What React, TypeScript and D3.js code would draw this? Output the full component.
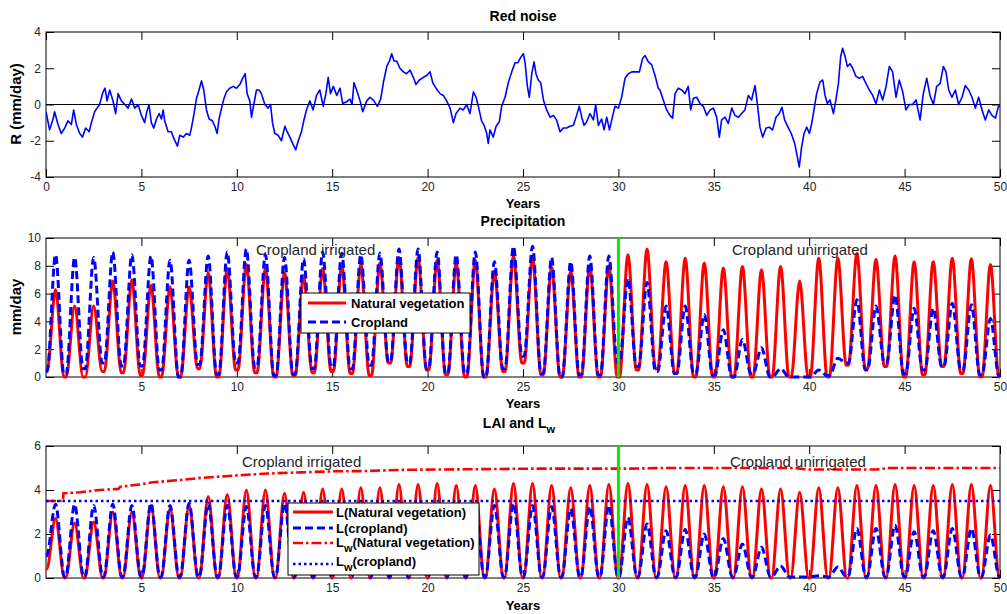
import React, { useEffect, useRef } from "react";
import * as d3 from "d3";

const W = 1007;
const H = 614;
const FONT = "'Liberation Sans', Arial, Helvetica, sans-serif";
const RED = "#ff0000";
const BLUE = "#0000ff";
const GREEN = "#00ee00";

type Pt = [number, number];

// red noise R (mm/day) as [year, value]
const redNoise: Pt[] = [
  [0, -0.4], [0.19, -1.4], [0.37, -0.8], [0.45, -0.4], [0.63, -1.1], [0.8, -1.6], [0.98, -1.3], [1.15, -0.9],
  [1.33, -1.1], [1.45, -0.3], [1.59, -1.1], [1.77, -1.6], [1.91, -1.8], [2.08, -1.3], [2.26, -1.5], [2.38, -1.0],
  [2.55, -0.4], [2.67, -0.2], [2.81, 0.0], [2.99, 0.7], [3.09, 0.9], [3.2, 0.2], [3.34, 0.8], [3.51, 0.2],
  [3.65, -0.5], [3.78, 0.6], [3.95, 0.2], [4.13, 0.0], [4.3, -0.2], [4.48, 0.3], [4.65, -0.2], [4.83, 0.0],
  [5.0, -0.6], [5.17, -1.0], [5.26, -0.5], [5.4, 0.0], [5.52, -1.0], [5.65, -1.3], [5.79, -0.8], [5.93, -0.5],
  [6.05, -0.8], [6.14, -0.3], [6.22, -0.9], [6.4, -1.5], [6.57, -1.5], [6.71, -1.9], [6.89, -2.3], [7.01, -1.7],
  [7.19, -1.8], [7.36, -1.6], [7.53, -1.7], [7.62, -1.3], [7.76, -0.5], [7.88, 0.3], [8.02, 0.8], [8.15, 1.3],
  [8.27, 0.8], [8.41, -0.3], [8.55, -0.8], [8.72, -0.9], [8.85, -1.2], [8.97, -1.6], [9.07, -0.8], [9.2, -0.2],
  [9.32, 0.3], [9.46, 0.7], [9.63, 0.9], [9.81, 1.0], [9.98, 0.9], [10.16, 1.1], [10.33, 1.5], [10.44, 1.7],
  [10.54, 0.6], [10.68, 0.2], [10.77, -0.7], [10.89, 0.0], [11.03, 0.8], [11.17, 0.8], [11.29, 0.6], [11.47, 0.0],
  [11.64, -0.2], [11.77, 0.0], [11.87, -1.0], [11.99, -1.6], [12.17, -1.7], [12.34, -2.0], [12.52, -1.2], [12.64, -1.5],
  [12.78, -1.8], [12.95, -2.2], [13.09, -2.5], [13.22, -2.0], [13.39, -1.5], [13.51, -0.9], [13.65, -0.3], [13.83, 0.2],
  [14.0, -0.3], [14.18, 0.5], [14.35, 0.8], [14.53, -0.1], [14.67, 0.6], [14.79, 1.5], [14.91, 0.6], [15.06, 1.0],
  [15.24, 0.5], [15.41, 0.9], [15.55, 0.05], [15.76, 0.15], [15.93, 0.3], [16.04, 0.0], [16.14, 1.2], [16.28, 0.8],
  [16.46, 0.2], [16.6, -0.4], [16.81, 0.2], [16.98, 0.4], [17.19, 0.2], [17.37, -0.1], [17.54, 0.3], [17.68, 1.2],
  [17.86, 2.1], [18.0, 2.4], [18.12, 2.8], [18.24, 2.4], [18.38, 2.4], [18.55, 2.0], [18.73, 1.8], [18.9, 1.7],
  [19.08, 1.9], [19.25, 1.5], [19.39, 1.1], [19.57, 1.35], [19.78, 1.5], [19.95, 1.6], [20.13, 1.8], [20.27, 1.2],
  [20.44, 0.9], [20.65, 0.6], [20.82, 0.5], [21.0, 0.2], [21.18, -0.2], [21.35, -1.0], [21.49, -0.5], [21.7, -0.2],
  [21.87, -0.3], [22.05, 0.0], [22.22, -0.5], [22.4, 0.7], [22.54, 0.4], [22.66, -0.1], [22.83, -0.9], [22.96, -1.15],
  [23.1, -1.6], [23.18, -2.15], [23.27, -1.4], [23.44, -1.8], [23.59, -1.2], [23.76, -0.95], [23.88, -0.1], [24.06, 0.4],
  [24.23, 1.2], [24.41, 1.8], [24.58, 2.3], [24.72, 2.3], [24.88, 2.6], [25.02, 2.8], [25.11, 2.3], [25.23, 1.0],
  [25.33, 0.4], [25.46, 1.7], [25.58, 2.35], [25.68, 1.7], [25.8, 1.35], [25.93, 1.2], [26.07, 0.25], [26.24, -0.3],
  [26.42, -0.7], [26.59, -0.6], [26.76, -0.85], [26.94, -1.5], [27.11, -1.3], [27.29, -1.3], [27.46, -1.2], [27.64, -1.15],
  [27.81, -0.6], [27.95, -0.1], [28.08, -0.7], [28.2, -1.15], [28.34, -0.95], [28.51, -0.5], [28.69, -0.85], [28.81, 0.0],
  [28.95, -1.15], [29.12, -0.8], [29.25, -1.4], [29.39, -0.7], [29.53, -1.4], [29.65, -0.85], [29.82, -0.1], [30.0, -0.2],
  [30.17, 0.4], [30.35, 1.45], [30.52, 1.7], [30.7, 1.8], [30.87, 1.8], [31.1, 1.8], [31.27, 2.55], [31.4, 2.7],
  [31.57, 2.35], [31.74, 2.2], [31.92, 1.6], [32.09, 0.9], [32.18, 0.8], [32.35, 0.25], [32.53, -0.3], [32.7, -0.6],
  [32.84, -0.75], [32.97, 0.6], [33.14, 0.9], [33.32, 0.8], [33.49, 0.6], [33.66, 1.0], [33.79, -0.3], [33.93, 0.35],
  [34.1, 0.4], [34.28, 0.05], [34.45, -0.1], [34.63, -0.6], [34.8, -0.3], [34.98, -0.2], [35.15, -0.7], [35.29, -1.8],
  [35.41, -0.85], [35.59, -0.7], [35.76, -1.05], [35.94, -0.2], [36.11, -0.6], [36.29, -0.7], [36.46, -0.5], [36.63, -0.3],
  [36.81, 0.5], [36.98, 0.25], [37.16, 1.05], [37.28, 0.05], [37.42, -1.25], [37.56, -1.8], [37.74, -1.3], [37.91, -1.25],
  [38.08, -1.4], [38.26, -0.7], [38.43, -0.5], [38.57, -0.15], [38.71, -0.85], [38.89, -1.25], [39.06, -1.6], [39.24, -2.15],
  [39.38, -2.9], [39.48, -3.45], [39.6, -2.35], [39.73, -1.6], [39.87, -1.25], [40.01, -1.6], [40.13, -1.05], [40.25, -0.3],
  [40.39, 0.6], [40.57, 1.25], [40.71, 1.35], [40.83, 0.5], [40.95, 0.05], [41.09, 0.25], [41.27, -0.5], [41.4, 0.25],
  [41.53, 1.15], [41.65, 2.65], [41.75, 3.1], [41.88, 2.65], [42.0, 2.1], [42.14, 2.25], [42.28, 2.0], [42.45, 1.55],
  [42.63, 1.45], [42.8, 1.55], [42.98, 1.15], [43.15, 0.8], [43.33, 0.5], [43.5, 0.05], [43.68, 0.8], [43.85, 0.25],
  [44.03, 1.0], [44.2, 2.1], [44.37, 1.8], [44.55, 0.4], [44.72, 1.35], [44.9, 0.7], [45.07, -0.3], [45.25, 0.0],
  [45.42, 0.0], [45.6, 0.25], [45.81, -0.85], [45.98, 0.6], [46.16, 1.45], [46.33, 0.5], [46.51, 0.0], [46.68, 1.0],
  [46.86, 1.15], [47.03, 2.1], [47.17, 1.8], [47.31, 0.8], [47.48, 0.4], [47.66, 0.8], [47.83, 0.0], [48.01, 0.4],
  [48.18, 1.05], [48.36, 0.8], [48.53, 0.4], [48.71, -0.2], [48.88, 0.4], [49.06, -0.3], [49.23, -0.85], [49.41, -0.3],
  [49.58, -0.6], [49.76, -0.75], [49.92, -0.1], [50, -0.1],
];

// precipitation: one peak per year (mm/day), troughs at the turn of each year
const natPrecipPeak = [
  6.3, 5.1, 5.1, 6.9, 7.0, 6.6, 6.5, 6.5, 7.5, 7.8, 8.1, 7.8, 7.5, 7.3, 7.8,
  8.0, 8.1, 8.2, 8.6, 8.6, 8.4, 8.2, 8.4, 7.6, 8.7, 8.6, 7.9, 7.6, 8.0, 8.0,
  8.8, 9.2, 8.3, 8.55, 8.2, 7.85, 7.95, 7.7, 7.95, 6.9, 8.55, 8.55, 8.9, 8.45, 8.7, 8.3, 8.3, 8.55, 8.5, 8.1,
];
const cropPrecipPeak = [
  8.8, 8.6, 8.6, 9.0, 8.8, 8.7, 8.4, 8.4, 8.7, 9.0, 9.2, 8.8, 8.6, 8.5, 9.0,
  8.9, 8.8, 8.9, 9.2, 9.2, 9.0, 8.8, 9.0, 8.3, 9.4, 9.4, 8.6, 8.3, 8.7, 8.7,
  7.1, 6.8, 5.1, 5.1, 4.5, 3.4, 2.7, 2.1, 0.6, 0.0, 0.5, 1.35, 5.55, 5.1, 5.9, 4.95, 4.95, 5.3, 5.2, 4.2,
];
const natPrecipTrough = [
  0.5, 0.0, 0.0, 0.4, 0.3, 0.1, 0.0, 0.0, 0.6, 0.0, 0.5, 0.3, 0.0, 0.1, 0.3,
  0.4, 0.25, 0.1, 1.0, 0.75, 0.5, 0.15, 0.0, 0.0, 0.4, 1.0, 0.15, 0.0, 0.0, 0.0,
  0.0, 0.5, 0.6, 0.25, 0.0, 0.0, 0.0, 0.0, 0.0, 0.0, 0.0, 0.0, 0.85, 0.6, 0.75, 0.0, 0.15, 0.75, 0.25, 0.0, 0.0,
];
const cropPrecipTrough = [
  0.4, 0.2, 0.6, 1.0, 0.8, 0.8, 0.5, 0.0, 0.9, 0.2, 1.0, 0.7, 0.1, 0.2, 0.6,
  0.75, 0.6, 0.85, 1.1, 1.0, 0.6, 0.25, 0.25, 0.0, 0.6, 1.5, 0.25, 0.0, 0.15, 0.15,
  1.0, 0.75, 0.4, 0.25, 0.25, 0.15, 0.0, 0.25, 0.0, 0.0, 0.0, 0.1, 1.0, 0.5, 1.0, 0.25, 0.5, 0.75, 0.5, 0.15, 0.1,
];

// leaf area index: yearly peaks, troughs near zero
const natLaiPeak = [
  2.7, 2.5, 2.55, 3.0, 3.0, 3.3, 3.15, 3.3, 3.7, 3.8, 4.0, 4.0, 3.85, 3.9, 4.05,
  4.05, 4.1, 4.1, 4.25, 4.25, 4.3, 4.2, 4.2, 4.05, 4.3, 4.3, 4.2, 4.1, 4.2, 4.25,
  4.3, 4.25, 4.15, 4.2, 4.2, 4.15, 4.15, 4.05, 4.05, 3.9, 4.1, 4.1, 4.2, 4.2, 4.25, 4.2, 4.2, 4.25, 4.25, 4.2,
];
const cropLaiPeak = [
  3.35, 3.35, 3.3, 3.35, 3.3, 3.4, 3.3, 3.4, 3.4, 3.3, 3.25, 3.3, 3.4, 3.35, 3.35,
  3.3, 3.3, 3.3, 3.35, 3.35, 3.3, 3.3, 3.3, 3.3, 3.4, 3.3, 3.25, 3.15, 3.25, 3.3,
  2.75, 2.45, 2.15, 2.2, 2.0, 1.8, 1.55, 1.4, 0.55, 0.05, 0.1, 0.5, 2.25, 2.25, 2.4, 2.1, 2.15, 2.25, 2.25, 1.95,
];
const natLaiTrough = [
  0.4, 0, 0, 0, 0, 0, 0, 0, 0, 0, 0, 0, 0, 0, 0, 0, 0, 0, 0, 0, 0, 0, 0, 0, 0, 0,
  0, 0, 0, 0, 0, 0, 0, 0, 0, 0, 0, 0, 0, 0, 0, 0, 0, 0, 0, 0, 0, 0, 0, 0, 0,
];
const cropLaiTrough = [
  1.0, 0.05, 0.05, 0.05, 0.05, 0.05, 0.05, 0.05, 0.05, 0.05, 0.05, 0.05, 0.05, 0.05, 0.05, 0.05, 0.05, 0.05, 0.05, 0.05, 0.05, 0.05, 0.05, 0.05, 0.05, 0.05,
  0.05, 0.05, 0.05, 0.05, 0.05, 0.05, 0.05, 0.05, 0.05, 0.05, 0.05, 0.05, 0.05, 0.05, 0.05, 0.05, 0.05, 0.05, 0.05, 0.05, 0.05, 0.05, 0.05, 0.05, 0.05,
];

// Lw natural vegetation [year, value]; Lw cropland is constant
const lwNatural: Pt[] = [
  [0, 3.5], [0.88, 3.5], [0.92, 3.85], [1.8, 3.9], [2.8, 4.0], [3.8, 4.05], [3.9, 4.15], [4.9, 4.25],
  [5.6, 4.35], [7.0, 4.45], [8.1, 4.55], [9.8, 4.65], [11.6, 4.75], [13.3, 4.8], [15.1, 4.85], [16.6, 4.86],
  [18.9, 4.92], [21.9, 4.94], [25.4, 4.97], [30.6, 4.97], [32.4, 5.0], [39.2, 5.0], [40, 4.93], [43.5, 4.93],
  [44.2, 5.0], [50, 5.0],
];
const lwCropland = 3.5;

const switchYear = 30;
const xTicksAll = [0, 5, 10, 15, 20, 25, 30, 35, 40, 45, 50];
const xTicksNoZero = [5, 10, 15, 20, 25, 30, 35, 40, 45, 50];
const noiseTicks = [-4, -2, 0, 2, 4];
const precipTicks = [0, 2, 4, 6, 8, 10];
const laiTicks = [0, 2, 4, 6];

// builds [year, value] points: trough, peak mid-year, trough
function seasonal(peaks: number[], troughs: number[], flat: number): Pt[] {
  const pts: Pt[] = [[0, troughs[0]]];
  peaks.forEach((p, k) => {
    if (flat > 0) pts.push([k + flat, troughs[k]]);
    pts.push([k + 0.5, p]);
    pts.push([k + 1 - flat, troughs[k + 1]]);
  });
  if (flat > 0) pts.push([peaks.length, troughs[peaks.length]]);
  return pts;
}

const App = () => {
  const svgRef = useRef<SVGSVGElement>(null);

  useEffect(() => {
    const svg = d3.select(svgRef.current);
    svg.selectAll("*").remove();

    const left = 46;
    const right = 1000;
    const x = d3.scaleLinear().domain([0, 50]).range([left, right]);

    const styleAxis = (sel: any) => {
      sel.select(".domain").remove();
      sel.selectAll(".tick line").attr("stroke", "#000");
      sel.selectAll("text").attr("fill", "#262626").style("font-family", FONT).style("font-size", "12px");
    };

    const frame = (y: any, xTicks: number[], yTicks: number[], id: string) => {
      const [yb, yt] = y.range();
      const g = svg.append("g");
      g.append("rect")
        .attr("x", left).attr("y", yt).attr("width", right - left).attr("height", yb - yt)
        .attr("fill", "#fff").attr("stroke", "#000").attr("stroke-width", 1);
      g.append("g").attr("transform", `translate(0,${yb})`)
        .call(d3.axisBottom(x).tickValues(xTicks).tickSizeInner(-8).tickSizeOuter(0).tickPadding(5).tickFormat((d: any) => String(d)))
        .call(styleAxis);
      g.append("g").attr("transform", `translate(0,${yt})`)
        .call(d3.axisTop(x).tickValues(xTicks).tickSizeInner(-8).tickSizeOuter(0).tickFormat(() => ""))
        .call(styleAxis);
      g.append("g").attr("transform", `translate(${left},0)`)
        .call(d3.axisLeft(y).tickValues(yTicks).tickSizeInner(-8).tickSizeOuter(0).tickPadding(5).tickFormat((d: any) => String(d)))
        .call(styleAxis);
      g.append("g").attr("transform", `translate(${right},0)`)
        .call(d3.axisRight(y).tickValues(yTicks).tickSizeInner(-8).tickSizeOuter(0).tickFormat(() => ""))
        .call(styleAxis);
      svg.append("clipPath").attr("id", id).append("rect")
        .attr("x", left).attr("y", yt - 2).attr("width", right - left).attr("height", yb - yt + 4);
      return svg.append("g").attr("clip-path", `url(#${id})`);
    };

    const text = (t: string, tx: number, ty: number, size: number, bold: boolean, anchor = "middle") =>
      svg.append("text").attr("x", tx).attr("y", ty).attr("text-anchor", anchor)
        .style("font-family", FONT).style("font-size", `${size}px`).style("font-weight", bold ? "bold" : "normal")
        .attr("fill", bold ? "#000" : "#262626").text(t);

    const lineOf = (y: any, curve: any) =>
      d3.line<Pt>().x((d) => x(d[0])).y((d) => y(d[1])).curve(curve);

    const cx = (left + right) / 2;

    // ---- Red noise
    const yN = d3.scaleLinear().domain([-4, 4]).range([177, 32]);
    const gN = frame(yN, xTicksAll, noiseTicks, "clipN");
    gN.append("line").attr("x1", x(0)).attr("x2", x(50)).attr("y1", yN(0)).attr("y2", yN(0)).attr("stroke", "#000").attr("stroke-width", 1);
    gN.append("path").attr("d", lineOf(yN, d3.curveLinear)(redNoise))
      .attr("fill", "none").attr("stroke", BLUE).attr("stroke-width", 1.6).attr("stroke-linejoin", "round");
    text("Red noise", cx, 21, 14, true);
    text("Years", cx, 208, 13, true);
    text("R (mm/day)", 21, 104, 15, true).attr("transform", "rotate(-90,21,104)");

    // ---- Precipitation
    const yP = d3.scaleLinear().domain([0, 10]).range([377, 238]);
    const gP = frame(yP, xTicksNoZero, precipTicks, "clipP");
    gP.append("path").attr("d", lineOf(yP, d3.curveMonotoneX)(seasonal(natPrecipPeak, natPrecipTrough, 0.06)))
      .attr("fill", "none").attr("stroke", RED).attr("stroke-width", 3);
    gP.append("path").attr("d", lineOf(yP, d3.curveMonotoneX)(seasonal(cropPrecipPeak, cropPrecipTrough, 0.06)))
      .attr("fill", "none").attr("stroke", BLUE).attr("stroke-width", 3).attr("stroke-dasharray", "8,4");
    gP.append("line").attr("x1", x(switchYear)).attr("x2", x(switchYear)).attr("y1", yP(10)).attr("y2", yP(0))
      .attr("stroke", GREEN).attr("stroke-width", 3);
    text("Precipitation", cx, 226, 14, true);
    text("Years", cx, 408, 13, true);
    text("mm/day", 21, 307, 15, true).attr("transform", "rotate(-90,21,307)");
    text("Cropland irrigated", 256, 255, 15, false, "start");
    text("Cropland unirrigated", 732, 255, 15, false, "start");

    const legP = svg.append("g");
    legP.append("rect").attr("x", 301).attr("y", 293).attr("width", 169).attr("height", 40)
      .attr("fill", "#fff").attr("stroke", "#000");
    [
      { label: "Natural vegetation", color: RED, dash: null, ly: 303 },
      { label: "Cropland", color: BLUE, dash: "8,4", ly: 322 },
    ].forEach((e) => {
      legP.append("line").attr("x1", 308).attr("x2", 346).attr("y1", e.ly).attr("y2", e.ly)
        .attr("stroke", e.color).attr("stroke-width", 3).attr("stroke-dasharray", e.dash);
      legP.append("text").attr("x", 351).attr("y", e.ly + 4.5)
        .style("font-family", FONT).style("font-size", "13px").style("font-weight", "bold").text(e.label);
    });

    // ---- LAI
    const yL = d3.scaleLinear().domain([0, 6]).range([578, 446]);
    const gL = frame(yL, xTicksNoZero, laiTicks, "clipL");
    gL.append("path").attr("d", lineOf(yL, d3.curveMonotoneX)(seasonal(natLaiPeak, natLaiTrough, 0.03)))
      .attr("fill", "none").attr("stroke", RED).attr("stroke-width", 3);
    gL.append("path").attr("d", lineOf(yL, d3.curveMonotoneX)(seasonal(cropLaiPeak, cropLaiTrough, 0.03)))
      .attr("fill", "none").attr("stroke", BLUE).attr("stroke-width", 3).attr("stroke-dasharray", "8,4");
    gL.append("path").attr("d", lineOf(yL, d3.curveLinear)(lwNatural))
      .attr("fill", "none").attr("stroke", RED).attr("stroke-width", 2.6).attr("stroke-dasharray", "10,3,2.5,3");
    gL.append("line").attr("x1", x(0)).attr("x2", x(50)).attr("y1", yL(lwCropland)).attr("y2", yL(lwCropland))
      .attr("stroke", BLUE).attr("stroke-width", 2.5).attr("stroke-dasharray", "2.5,3");
    gL.append("line").attr("x1", x(switchYear)).attr("x2", x(switchYear)).attr("y1", yL(6)).attr("y2", yL(0))
      .attr("stroke", GREEN).attr("stroke-width", 3);

    const title = text("LAI and L", cx - 4, 428, 14, true);
    title.append("tspan").attr("dy", 5).style("font-size", "11px").text("w");
    text("Years", cx, 610, 13, true);
    text("Cropland irrigated", 242, 467, 15, false, "start");
    text("Cropland unirrigated", 730, 467, 15, false, "start");

    const legL = svg.append("g");
    legL.append("rect").attr("x", 288).attr("y", 503).attr("width", 191).attr("height", 72)
      .attr("fill", "#fff").attr("stroke", "#000");
    [
      { sub: "", rest: "(Natural vegetation)", color: RED, dash: null, w: 3, ly: 512, ty: 516.5 },
      { sub: "", rest: "(cropland)", color: BLUE, dash: "8,4", w: 3, ly: 528, ty: 532.5 },
      { sub: "w", rest: "(Natural vegetation)", color: RED, dash: "10,3,2.5,3", w: 2.6, ly: 543, ty: 546.5 },
      { sub: "w", rest: "(cropland)", color: BLUE, dash: "2.5,3", w: 2.5, ly: 564, ty: 566 },
    ].forEach((e) => {
      legL.append("line").attr("x1", 293).attr("x2", 333).attr("y1", e.ly).attr("y2", e.ly)
        .attr("stroke", e.color).attr("stroke-width", e.w).attr("stroke-dasharray", e.dash);
      const t = legL.append("text").attr("x", 336).attr("y", e.ty)
        .style("font-family", FONT).style("font-size", "13px").style("font-weight", "bold");
      t.append("tspan").text("L");
      if (e.sub) {
        t.append("tspan").attr("dy", 5).style("font-size", "11px").text(e.sub);
        t.append("tspan").attr("dy", -5).text(e.rest);
      } else {
        t.append("tspan").text(e.rest);
      }
    });
  }, []);

  return (
    <svg
      ref={svgRef}
      width={W}
      height={H}
      style={{ position: "absolute", left: 0, top: 0, background: "#fff", display: "block" }}
    />
  );
};

export default App;
